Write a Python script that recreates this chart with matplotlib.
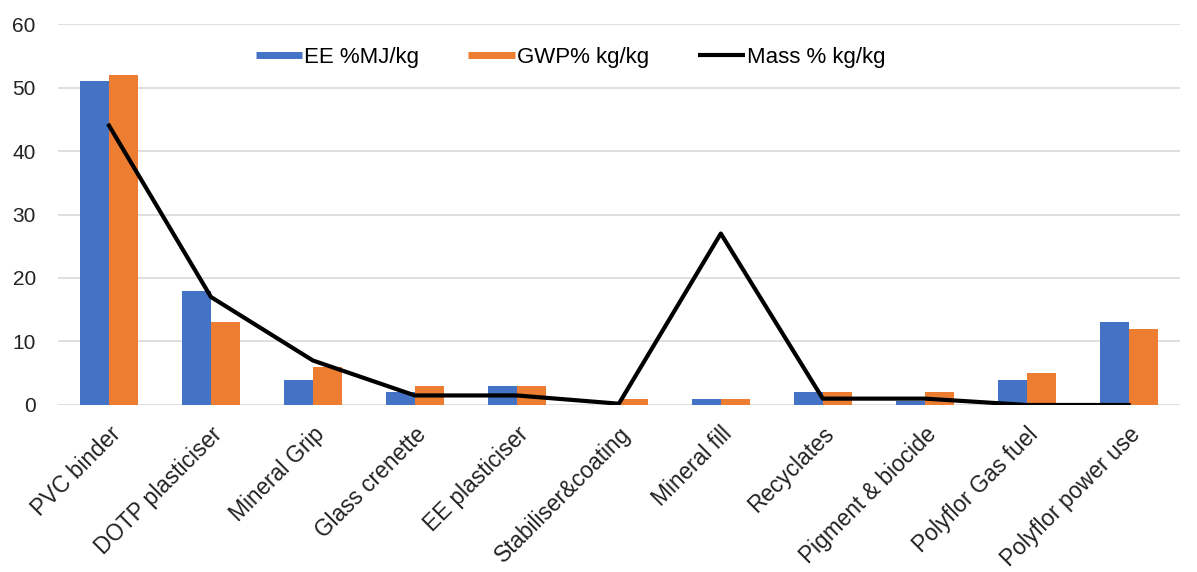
import matplotlib
matplotlib.use("Agg")
import matplotlib.pyplot as plt
from matplotlib.lines import Line2D
import matplotlib.transforms as mtransforms
import numpy as np

categories = ["PVC binder", "DOTP plasticiser", "Mineral Grip", "Glass crenette",
              "EE plasticiser", "Stabiliser&coating", "Mineral fill", "Recyclates",
              "Pigment & biocide", "Polyflor Gas fuel", "Polyflor power use"]
ee = [51, 18, 4, 2, 3, 0, 1, 2, 0.7, 4, 13]
gwp = [52, 13, 6, 3, 3, 1, 1, 2, 2, 5, 12]
mass = [44, 17, 7, 1.5, 1.5, 0.2, 27, 1, 1, 0, 0]
series_names = ["EE %MJ/kg", "GWP% kg/kg", "Mass % kg/kg"]

plt.rcParams['font.family'] = ['Liberation Sans', 'DejaVu Sans']
BLUE, ORANGE = "#4472C4", "#ED7D31"

fig = plt.figure(figsize=(11.97, 5.72), dpi=100)
ax = fig.add_axes([0.0485, 0.292, 0.937, 0.666])

x = np.arange(len(categories))
w = 0.285
ax.bar(x - w/2, ee, w, color=BLUE, zorder=2)
ax.bar(x + w/2, gwp, w, color=ORANGE, zorder=2)
ax.plot(x, mass, color="black", lw=3, zorder=3)

ax.set_xlim(-0.5, len(categories) - 0.5)
ax.set_ylim(0, 60)
ax.set_yticks(range(0, 61, 10))
ax.grid(axis='y', color="#d9d9d9", lw=1.2, zorder=0)
for s in ax.spines.values():
    s.set_visible(False)
ax.tick_params(axis='both', length=0, colors="#222222")
ax.tick_params(axis='y', pad=16, labelsize=15)
ax.tick_params(axis='x', pad=10, labelsize=16.3)
ax.set_xticks(x)
ax.set_xticklabels(categories, rotation=45, ha='right', va='center', rotation_mode='anchor')
offset = mtransforms.ScaledTranslation(8/100, -12/100, fig.dpi_scale_trans)
for lab in ax.get_xticklabels():
    lab.set_transform(lab.get_transform() + offset)

handles = [Line2D([], [], color=BLUE, lw=5, solid_capstyle='butt'),
           Line2D([], [], color=ORANGE, lw=5, solid_capstyle='butt'),
           Line2D([], [], color="black", lw=3, solid_capstyle='butt')]
ax.legend(handles, series_names, loc='center', bbox_to_anchor=(0.457, 0.913),
          ncol=3, frameon=False, fontsize=16, handlelength=2.1,
          handletextpad=0.1, columnspacing=2.2)
fig.savefig("out.png", dpi=100)
